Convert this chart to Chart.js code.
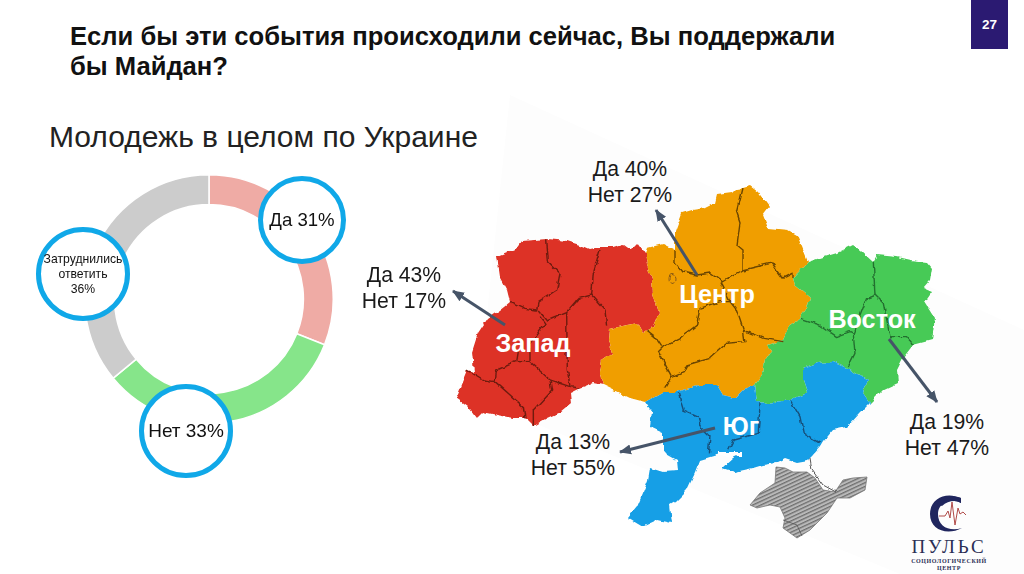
<!DOCTYPE html>
<html lang="ru">
<head>
<meta charset="utf-8">
<title>Майдан</title>
<script src="https://cdn.jsdelivr.net/npm/chart.js@4"></script>
<style>
  html, body { margin: 0; padding: 0; background: #fff; }
  body { position: relative; width: 1024px; height: 574px; overflow: hidden; font-family: "Liberation Sans", Arial, sans-serif; color: #111; }
  .abs { position: absolute; }
  #title { left: 70px; top: 21px; font-size: 25.6px; line-height: 30px; font-weight: bold; white-space: nowrap; }
  #subtitle { left: 49px; top: 120px; font-size: 30px; line-height: 34px; white-space: nowrap; color: #222; }
  #pageTag { left: 971px; top: 0; width: 37px; height: 49px; background: #2b1a72; color: #fff; font-size: 13.5px; font-weight: bold; line-height: 49px; text-align: center; }
  #map { left: 0; top: 0; }
  #donutBox { left: 84px; top: 174px; width: 250px; height: 250px; }
  .ring { position: absolute; box-sizing: border-box; border: 5.5px solid #10a8e8; border-radius: 50%; background: #fff; display: flex; align-items: center; justify-content: center; text-align: center; white-space: nowrap; }
  .stat { position: absolute; width: 120px; text-align: center; font-size: 21.2px; line-height: 26px; color: #1a1a1a; }
  .region { position: absolute; width: 120px; text-align: center; color: #fff; font-weight: bold; font-size: 25.2px; line-height: 28px; }
  .logo { position: absolute; width: 120px; text-align: center; left: 889px; font-family: "Liberation Serif", serif; color: #2b2f55; white-space: nowrap; }
</style>
</head>
<body>
<svg id="map" class="abs" width="1024" height="574" viewBox="0 0 1024 574">
  <defs>
    <pattern id="hatch" width="3.4" height="3.4" patternUnits="userSpaceOnUse" patternTransform="rotate(-25)">
      <rect width="3.4" height="3.4" fill="#b9b9b9"/>
      <rect width="3.4" height="1.3" fill="#6f6f6f"/>
    </pattern>
    <marker id="head" markerUnits="userSpaceOnUse" markerWidth="14" markerHeight="12" refX="11" refY="6" orient="auto">
      <path d="M0 1 L12 6 L0 11 Z" fill="#465468"/>
    </marker>
    <filter id="rough" x="0" y="0" width="100%" height="100%" filterUnits="userSpaceOnUse" primitiveUnits="userSpaceOnUse">
      <feTurbulence type="fractalNoise" baseFrequency="0.12" numOctaves="2" seed="4" result="n"/>
      <feDisplacementMap in="SourceGraphic" in2="n" scale="5" xChannelSelector="R" yChannelSelector="G"/>
      <feGaussianBlur stdDeviation="0.3"/>
    </filter>
  </defs>
  <polygon points="510,95 1024,330 1024,574 900,574 478,400" fill="#fdfdfd"/>

  <!-- Крым -->
  <polygon fill="url(#hatch)" stroke="#777" stroke-width="0.8" points="750,505 760,493 775,483 776,467 785,468 793,472 807,472 815,478 823,490 835,492 843,480 853,478 867,477 865,490 850,498 837,498 827,513 810,530 797,538 783,528 785,518 780,507 770,505 757,508"/>
  <polyline points="783,520 797,525 802,536" fill="none" stroke="#555" stroke-width="0.8"/>

  <g filter="url(#rough)">
  <!-- Запад -->
  <polygon fill="#dd3125" points="497,256 517,248 522,241 547,239 567,241 583,246 590,249 600,247 613,247 623,244 630,249 637,242 645,253 647,265 652,280 653,293 659,313 653,327 643,332 638,323 627,325 610,329 609,340 612,353 602,360 600,373 603,385 593,383 580,388 570,393 571,403 560,412 547,418 533,426 525,418 513,418 497,415 483,412 477,418 467,405 456,397 460,387 467,370 474,372 472,352 478,333 488,318 500,310 510,302 507,290 500,277"/>
  <!-- Центр -->
  <polygon fill="#f09e05" points="645,253 647,248 663,244 675,250 675,232 682,213 692,210 705,208 715,203 717,195 732,193 736,189 743,188 750,186 758,192 769,207 763,215 768,228 788,230 797,235 802,247 808,262 793,278 795,285 810,297 807,308 800,318 790,325 783,340 768,345 772,350 765,360 763,373 755,385 743,390 735,398 723,395 717,385 700,385 677,392 663,392 645,402 630,398 603,385 600,373 602,360 612,353 609,340 610,329 627,325 638,323 643,332 653,327 659,313 653,293 652,280 647,265"/>
  <!-- Восток -->
  <polygon fill="#47ca57" points="808,262 820,258 837,253 853,245 860,250 873,262 877,255 897,257 910,260 927,262 932,268 930,280 923,288 932,292 925,302 935,318 932,340 913,345 903,358 897,370 898,383 883,390 870,403 863,393 868,380 847,368 832,362 817,363 803,368 803,380 807,392 790,400 767,403 757,402 755,385 763,373 765,360 772,350 768,345 783,340 790,325 800,318 807,308 810,297 795,285 793,278"/>
  <!-- Юг -->
  <polygon fill="#149fe6" points="645,402 663,392 677,392 700,385 717,385 723,395 735,398 743,390 755,385 757,402 767,403 790,400 807,392 803,380 803,368 817,363 832,362 847,368 868,380 863,393 870,403 860,413 847,427 833,430 823,442 820,447 813,455 808,460 797,462 785,458 775,463 763,465 753,468 735,472 722,468 733,458 750,450 742,455 720,454 700,460 695,473 687,490 675,502 670,505 672,523 658,520 643,527 628,518 637,507 643,493 648,480 650,468 663,472 678,471 677,460 663,452 663,433 650,427 652,412"/>
  <polyline points="810,458 812,470 823,485 836,492" fill="none" stroke="#555" stroke-width="1"/>
  <ellipse cx="672" cy="279" rx="3" ry="4.5" fill="none" stroke="#8a5a10" stroke-width="1"/>
  <polygon points="718,452 741,452 741,456 718,456" fill="#fff"/>

  <g fill="none" stroke="#6e1c10" stroke-width="1.4" stroke-linejoin="round">
    <g transform="translate(450 170) scale(0.3333)" stroke-width="4.2">
      <polyline points="290,208 295,275 330,310 320,360 265,395 260,420 225,415 180,395"/>
      <polyline points="450,240 430,310 425,375 385,385 350,425 290,450 265,420"/>
      <polyline points="425,375 465,420 470,470"/>
      <polyline points="350,425 352,600 360,650"/>
      <polyline points="270,440 285,460 240,520 240,575 300,630 360,650 390,655"/>
      <polyline points="205,545 200,575 140,600 135,635 100,630 50,600"/>
      <polyline points="135,635 220,710 225,745"/>
      <polyline points="240,575 200,575"/>
      <polyline points="300,630 305,660 250,720 250,768"/>
    </g>
    <g stroke="#6a4505">
      <polyline points="743,188 737,213 740,222 737,245 743,250 743,270"/>
      <polyline points="675,250 675,262 683,272 697,275 710,273 722,282 743,270 772,263 783,278 793,273 793,278"/>
    </g>
    <g transform="translate(620 230) scale(0.3333)" stroke="#6a4505" stroke-width="4.2">
      <polyline points="300,155 330,215 350,240 370,300 375,335 320,340 270,385 200,405 190,425 155,440 135,475"/>
      <polyline points="240,235 230,285 180,325 130,350 115,365 155,440"/>
      <polyline points="240,235 300,215 330,215"/>
      <polyline points="370,300 430,325 490,335"/>
      <polyline points="80,300 105,320 125,350"/>
    </g>
    <g transform="translate(620 230) scale(0.3333)" stroke="#24702f" stroke-width="4.2">
      <polyline points="760,95 765,195 740,205 725,245 700,310 705,370 685,410"/>
      <polyline points="765,195 790,220 810,320 860,320 880,345"/>
      <polyline points="540,265 600,285 650,320 690,305 700,310"/>
    </g>
    <g transform="translate(620 230) scale(0.3333)" stroke="#134f7a" stroke-width="4.2">
      <polyline points="175,490 190,540 235,560 240,590 270,620 265,670"/>
      <polyline points="420,520 415,610 340,630 325,660"/>
      <polyline points="510,510 540,560 550,610 600,640"/>
    </g>
  </g>
  </g>

  <g stroke="#465468" stroke-width="3" marker-end="url(#head)">
    <line x1="505" y1="325" x2="453" y2="291"/>
    <line x1="697" y1="275" x2="656" y2="210"/>
    <line x1="889" y1="339" x2="937" y2="402"/>
    <line x1="715" y1="428" x2="620" y2="452"/>
  </g>

  <!-- логотип -->
  <path d="M961 498 C945 491 930 499 930 514 C930 530 947 536 962 528 C950 532 938 527 938 514 C938 503 950 497 961 503 Z" fill="#20265e"/>
  <path d="M961 498 C957 497 945 493 935 503 L942 506 C948 500 957 500 961 503 Z" fill="#20265e"/>
  <polyline points="939,516 945,516 948,511 950,518 952,502 955,525 958,508 960,514 963,512 966,515" fill="none" stroke="#b04a48" stroke-width="1"/>
</svg>

<div id="title" class="abs">Если бы эти события происходили сейчас, Вы поддержали<br>бы Майдан?</div>
<div id="subtitle" class="abs">Молодежь в целом по Украине</div>
<div id="pageTag" class="abs">27</div>

<div id="donutBox" class="abs"><canvas id="donut" width="250" height="250"></canvas></div>

<div id="ring0" class="ring" style="left:258px;top:176px;width:88px;height:88px;font-size:18.6px"></div>
<div id="ring1" class="ring" style="left:139px;top:384px;width:94px;height:94px;font-size:19px"></div>
<div id="ring2" class="ring" style="left:36px;top:227px;width:94px;height:94px;font-size:12.2px;line-height:15px"></div>

<div id="stat0" class="stat" style="left:344px;top:262px"></div>
<div id="stat1" class="stat" style="left:570px;top:156px"></div>
<div id="stat2" class="stat" style="left:887px;top:409px"></div>
<div id="stat3" class="stat" style="left:513px;top:429px"></div>

<div id="region0" class="region" style="left:473px;top:329px"></div>
<div id="region1" class="region" style="left:657px;top:280px"></div>
<div id="region2" class="region" style="left:812px;top:305px"></div>
<div id="region3" class="region" style="left:681px;top:412px"></div>

<div class="logo" style="top:536px;font-size:19px;letter-spacing:2.8px">ПУЛЬС</div>
<div class="logo" style="top:558px;font-size:6px;font-weight:bold;letter-spacing:.6px">СОЦИОЛОГИЧЕСКИЙ</div>
<div class="logo" style="top:565px;font-size:6px;font-weight:bold;letter-spacing:.6px">ЦЕНТР</div>

<script>
const answers = ['Да', 'Нет', 'Затруднились ответить'];
const answerValues = [31, 33, 36];
const answerColors = ['#efaba5', '#86e58a', '#cccccc'];

const regions = ['Запад', 'Центр', 'Восток', 'Юг'];
const regionYes = [43, 40, 19, 13];
const regionNo = [17, 27, 47, 55];

document.addEventListener('DOMContentLoaded', () => {
  document.getElementById('ring0').innerText = answers[0] + ' ' + answerValues[0] + '%';
  document.getElementById('ring1').innerText = answers[1] + ' ' + answerValues[1] + '%';
  document.getElementById('ring2').innerHTML = 'Затруднились<br>ответить<br>' + answerValues[2] + '%';

  regions.forEach((name, i) => {
    document.getElementById('region' + i).innerText = name;
    document.getElementById('stat' + i).innerHTML = 'Да ' + regionYes[i] + '%<br>Нет ' + regionNo[i] + '%';
  });

  drawDonut();
});

function drawDonut() {
  const ctx = document.getElementById('donut').getContext('2d');
  new Chart(ctx, {
    type: 'doughnut',
    data: {
      labels: answers,
      datasets: [{
        data: answerValues,
        backgroundColor: answerColors,
        borderColor: '#ffffff',
        borderWidth: 1.5
      }]
    },
    options: {
      responsive: false,
      animation: false,
      cutout: '76%',
      layout: { padding: 0 },
      plugins: {
        legend: { display: false },
        tooltip: { enabled: false }
      }
    }
  });
}
</script>
</body>
</html>
